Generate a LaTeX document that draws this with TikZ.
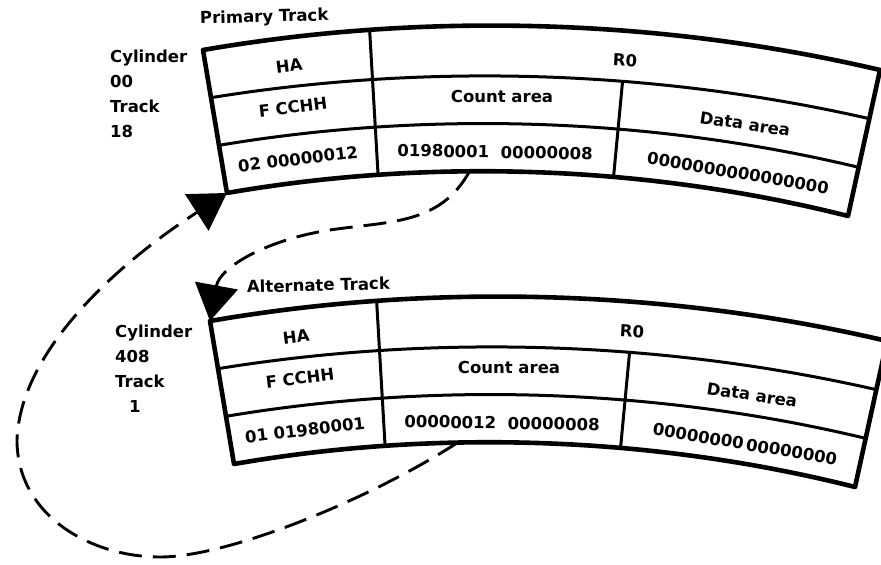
\documentclass[tikz,border=0pt]{standalone}
\usepackage{fontspec}
\setmainfont{DejaVu Sans}
\usetikzlibrary{calc,arrows.meta}
\tikzset{
  lbl/.style={font=\fontsize{16.5pt}{25pt}\selectfont\bfseries, inner sep=0pt},
  cell/.style={lbl, anchor=center},
  outerline/.style={line width=4.6pt, line join=round},
  innerline/.style={line width=3pt},
  arcA/.style={bend left=11.5, looseness=0.85},
  arcB/.style={bend left=11, looseness=0.85},
  arcC/.style={bend left=11.5, looseness=0.85},
  arcD/.style={bend left=12, looseness=0.85},
  arcDrev/.style={bend right=12, looseness=0.85},
  link/.style={line width=2.9pt, dash pattern=on 23pt off 11pt, -{Triangle[width=43pt,length=36pt]}},
}
\newcommand\trackgrid[6]{%
\begin{scope}[shift={#2}]
  \coordinate (#1L0) at (203,515);
  \coordinate (#1L3) at (227,372);
  \coordinate (#1R0) at (880,495);
  \coordinate (#1R3) at (848,349);
  \coordinate (#1L1) at ($(#1L0)!1/3!(#1L3)$);
  \coordinate (#1L2) at ($(#1L0)!2/3!(#1L3)$);
  \coordinate (#1R1) at ($(#1R0)!1/3!(#1R3)$);
  \coordinate (#1R2) at ($(#1R0)!2/3!(#1R3)$);
  \begin{scope}
    \clip (#1L0) to[arcA] (#1R0) -- (#1R3) to[arcDrev] (#1L3) -- cycle;
    \draw[innerline] (367,580) -- (381,340);
  \end{scope}
  \begin{scope}
    \clip (#1L1) to[arcB] (#1R1) -- (#1R3) to[arcDrev] (#1L3) -- cycle;
    \draw[innerline] (626,520) -- (609,340);
  \end{scope}
  \draw[innerline] (#1L1) to[arcB] (#1R1);
  \draw[innerline] (#1L2) to[arcC] (#1R2);
  \draw[outerline] (#1L0) to[arcA] (#1R0) -- (#1R3) to[arcDrev] (#1L3) -- cycle;
  \path (#1L3) to[arcD] coordinate[pos=#6] (#1S) (#1R3);
  \node[cell, rotate=7] (#1ha) at (289,499) {HA};
  \node[cell, rotate=-3] (#1rz) at (625,505) {R0};
  \node[cell, rotate=7] (#1fc) at (293,458) {F CCHH};
  \node[cell] (#1ca) at (502,469) {Count area};
  \node[cell, rotate=-8.5] (#1da) at (745,441) {Data area};
  \node[cell, rotate=7] (#1hv) at (298,406) {#3};
  \node[cell, rotate=-1] (#1cv) at (495,413) {#4};
  \node[cell, rotate=-9.5] (#1dv) at (738,392) {#5};
\end{scope}}
\begin{document}
\begin{tikzpicture}[x=1pt, y=1pt]
\useasboundingbox (0,0) rectangle (881,565);
\clip (0,0) rectangle (881,565);
\fill[white] (0,0) rectangle (881,565);

\trackgrid{top}{(0,0)}{02 00000012}{01980001\ \ 00000008}{0000000000000000}{0.39}
\trackgrid{bot}{(7,-271)}{01 01980001}{00000012\ \ 00000008}{00000000\,00000000}{0.36}

\node[lbl, anchor=base west, rotate=1.5] (ptrack) at (200,541) {Primary Track};
\node[lbl, align=left, anchor=north west] (pcyl) at (110,515) {Cylinder\\00\\Track\\18};
\node[lbl, anchor=base west, rotate=1.5] (atrack) at (247,272) {Alternate Track};
\node[lbl, align=left, anchor=north west] (acyl) at (115,240) {Cylinder\\408\\Track\\\hspace*{14pt}1};

\draw[link] (topS) .. controls (440,340) and (390,344) .. (330,335)
  .. controls (270,326) and (220,299) .. (botL0);
\draw[link] (botS) .. controls (372,67) and (230,8) .. (160,8)
  .. controls (90,8) and (17,50) .. (17,125)
  .. controls (20,215) and (120,303) .. (topL3);
\end{tikzpicture}
\end{document}
